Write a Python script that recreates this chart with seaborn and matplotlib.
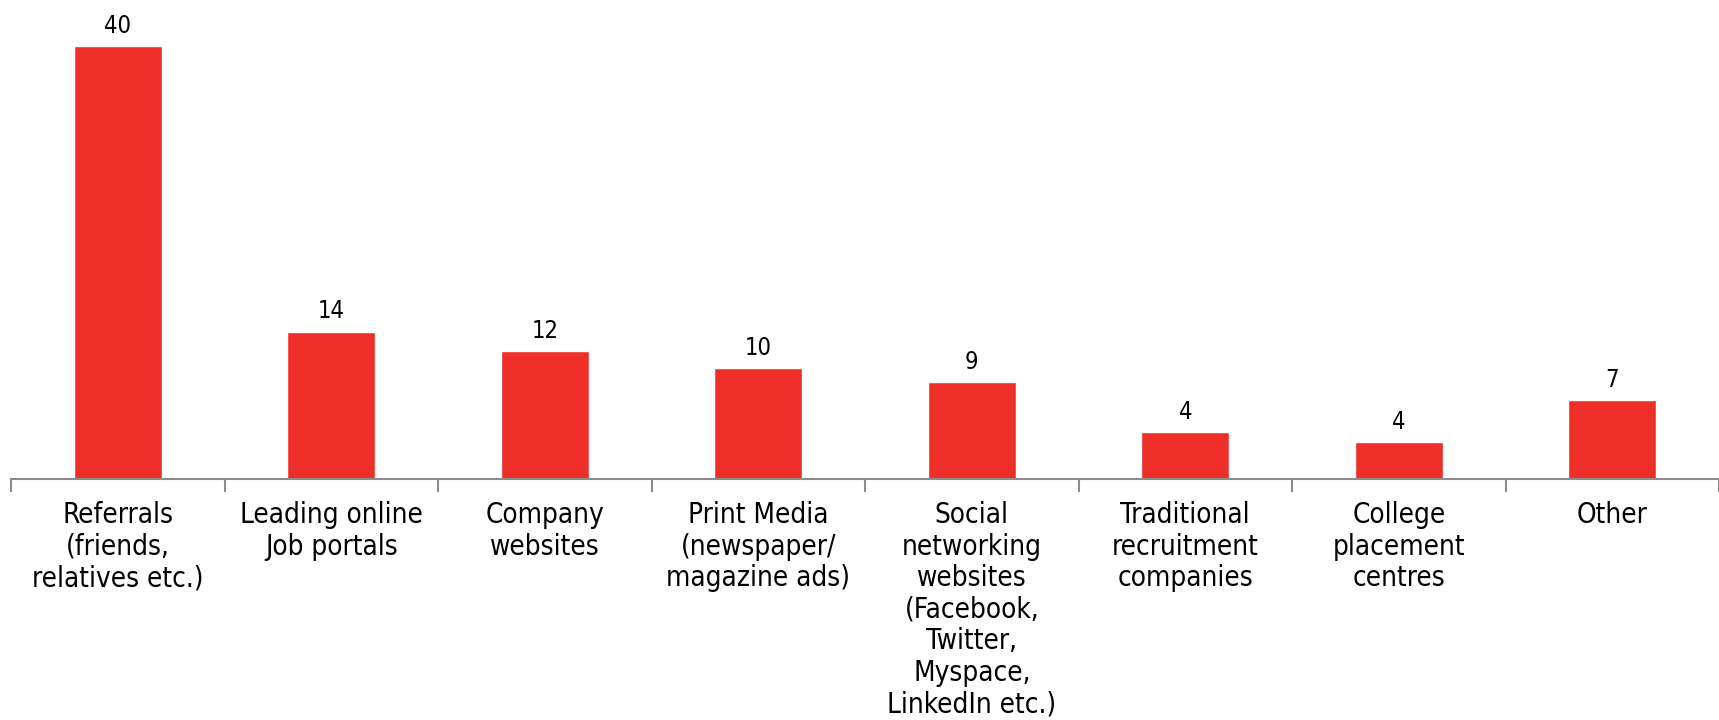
import matplotlib
matplotlib.use("Agg")
import matplotlib.pyplot as plt
import seaborn as sns
import pandas as pd
import numpy as np

categories = [
    "Referrals\n(friends,\nrelatives etc.)",
    "Leading online\nJob portals",
    "Company\nwebsites",
    "Print Media\n(newspaper/\nmagazine ads)",
    "Social\nnetworking\nwebsites\n(Facebook,\nTwitter,\nMyspace,\nLinkedIn etc.)",
    "Traditional\nrecruitment\ncompanies",
    "College\nplacement\ncentres",
    "Other",
]
values = [40, 13.6, 11.8, 10.25, 8.96, 4.34, 3.42, 7.3]
value_labels = ["40", "14", "12", "10", "9", "4", "4", "7"]

sns.set_theme(style="white")
plt.rcParams['font.family'] = ['DejaVu Sans']

BAR_COLOR = "#EE2E29"
AXIS_COLOR = "#8C8C8C"

df = pd.DataFrame({"cat": categories, "val": values})

fig = plt.figure(figsize=(17.19, 7.2), dpi=100)
ax = fig.add_axes([11/1719, 241/720, 1708/1719, 479/720])

sns.barplot(data=df, x="cat", y="val", color=BAR_COLOR, width=0.41,
            saturation=1, ax=ax)

ax.set_xlim(-0.5, 7.5)
ax.set_ylim(0, 44.25)
ax.set_xlabel("")
ax.set_ylabel("")
ax.set_yticks([])
for s in ["top", "right", "left"]:
    ax.spines[s].set_visible(False)
ax.spines["bottom"].set_color(AXIS_COLOR)
ax.spines["bottom"].set_linewidth(1.5)

ax.set_xticks(range(len(categories)))
ax.set_xticklabels(categories, fontsize=20, linespacing=1.16,
                   fontstretch="condensed")
ax.tick_params(axis="x", which="major", length=0, pad=16, colors="black")
ax.set_xticks(np.arange(-0.5, len(categories) + 0.5, 1), minor=True)
ax.tick_params(axis="x", which="minor", bottom=True, length=9, width=1.5,
               color=AXIS_COLOR, direction="out")

for p, lab in zip(ax.patches, value_labels):
    ax.annotate(lab, (p.get_x() + p.get_width() / 2, p.get_height()),
                xytext=(0, 6), textcoords="offset points",
                ha="center", va="bottom", fontsize=17, color="black",
                fontstretch="condensed")

fig.savefig("out.png", dpi=100)
